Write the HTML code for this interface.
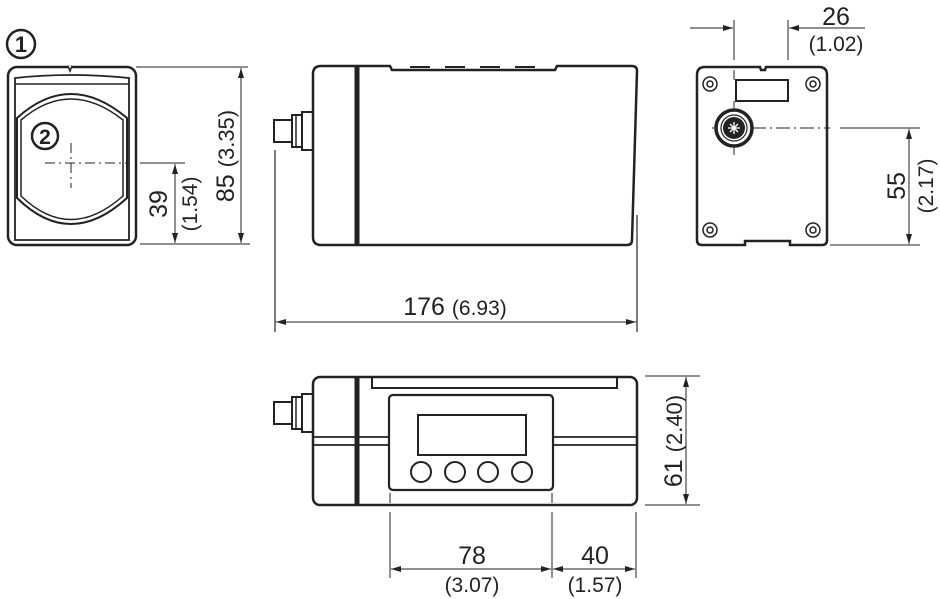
<!DOCTYPE html>
<html><head><meta charset="utf-8"><style>
html,body{margin:0;padding:0;background:#fff;}
svg{display:block;}
text{font-family:"Liberation Sans",sans-serif;fill:#222;}
</style></head><body>
<svg width="940" height="599" viewBox="0 0 940 599" xmlns="http://www.w3.org/2000/svg">
<defs>
<marker id="a" viewBox="0 0 10 6" refX="10" refY="3" markerWidth="11" markerHeight="6" orient="auto-start-reverse" markerUnits="userSpaceOnUse"><path d="M0,0 L10,3 L0,6 z" fill="#222"/></marker>
</defs>
<g fill="none" stroke="#222">
<!-- FRONT VIEW -->
<circle cx="21" cy="44" r="14" stroke-width="2.5"/>
<rect x="8" y="67" width="128" height="178" rx="9" stroke-width="2.5"/>
<path d="M15,78 Q70,72 129,78 L129,240 L15,240 Z" stroke-width="1.8"/>
<path d="M15,84 L129,84" stroke-width="1.5"/>
<path d="M17,118 Q70,70 127,118 L127,198 Q70,250 17,198 Z" stroke-width="2"/>
<path d="M21,120 Q70,78 123,120 L123,196 Q70,243 21,196 Z" stroke-width="1.5"/>
<path d="M68,66 L70,71 L72,66" stroke-width="1.5" fill="#fff"/>
<circle cx="45" cy="136" r="13" stroke-width="2.5"/>
<path d="M71,143 V188" stroke-width="1" stroke-dasharray="10,4,2,4"/>
<path d="M45,163 H130" stroke-width="1" stroke-dasharray="10,4,2,4"/>
<path d="M140,163 H185" stroke-width="1"/>
<path d="M140,244 H250 M136,67 H248" stroke-width="1"/>
<path d="M175,164 V243" stroke-width="1" marker-start="url(#a)" marker-end="url(#a)"/>
<path d="M241,68 V243" stroke-width="1" marker-start="url(#a)" marker-end="url(#a)"/>

<!-- SIDE VIEW -->
<path d="M321,66 L390,66 L392,70 L555,70 L557,66 L632,66 Q637,66 637,71 L632,240 Q632,245 627,245 L321,245 Q313,245 313,237 L313,74 Q313,66 321,66 Z" stroke-width="2.5"/>
<path d="M410,67 H430 M445,67 H465 M480,67 H500 M515,67 H535" stroke-width="2"/>
<path d="M357,66 V245" stroke-width="5"/>
<rect x="274" y="120" width="18" height="22" stroke-width="2"/>
<rect x="292" y="115" width="10" height="32" stroke-width="2"/>
<rect x="302" y="112" width="11" height="38" stroke-width="2"/>
<path d="M296,115 V147" stroke-width="1.5"/>
<path d="M275,150 V332 M637,215 V332" stroke-width="1.2"/>
<path d="M276,322 H636" stroke-width="1" marker-start="url(#a)" marker-end="url(#a)"/>

<!-- BACK VIEW -->
<path d="M705,67 L760,67 L761,70 L765,70 L766,67 L819,67 Q827,67 827,75 L827,240 Q827,245 822,245 L790,245 L790,241 L745,241 L745,245 L702,245 Q697,245 697,240 L697,75 Q697,67 705,67 Z" stroke-width="2.5"/>
<g stroke-width="1.5">
<circle cx="710" cy="84" r="7"/><circle cx="710" cy="84" r="3"/>
<circle cx="813" cy="84" r="7"/><circle cx="813" cy="84" r="3"/>
<circle cx="710" cy="230" r="7"/><circle cx="710" cy="230" r="3"/>
<circle cx="813" cy="230" r="7"/><circle cx="813" cy="230" r="3"/>
</g>
<rect x="736" y="80" width="52" height="21" stroke-width="2"/>
<path d="M734,20 V60 M788,20 V60 M734,70 V80" stroke-width="1"/>
<path d="M734,101 V108" stroke-width="1"/>
<path d="M690,28 H733" stroke-width="1" marker-end="url(#a)"/>
<path d="M865,28 H789" stroke-width="1" marker-end="url(#a)"/>
<circle cx="734" cy="128" r="18" stroke-width="3.5"/>
<circle cx="734" cy="128" r="13" stroke-width="1.2"/>
<circle cx="734" cy="128" r="11" fill="#222" stroke="none"/>
<path d="M728,128 H740 M734,122 V134 M730,124 L738,132 M738,124 L730,132" stroke="#fff" stroke-width="1.3"/>
<path d="M712,128 H716 M752,128 H830 M734,146 V155" stroke-width="1" stroke-dasharray="14,4,2,4"/>
<path d="M840,128 H920 M830,245 H920" stroke-width="1"/>
<path d="M909,129 V244" stroke-width="1" marker-start="url(#a)" marker-end="url(#a)"/>

<!-- BOTTOM VIEW -->
<rect x="313" y="377" width="324" height="128" rx="7" stroke-width="2.5"/>
<path d="M372,378 V388 H617 V378" stroke-width="2"/>
<path d="M357,377 V505" stroke-width="5"/>
<path d="M313,437 H388 M313,445 H388 M553,437 H637 M553,445 H637" stroke-width="1.8"/>
<rect x="389" y="395" width="164" height="95" rx="4" stroke-width="2.2" fill="#fff"/>
<rect x="418" y="415" width="108" height="40" stroke-width="2"/>
<circle cx="421" cy="472" r="10" stroke-width="2"/>
<circle cx="455" cy="472" r="10" stroke-width="2"/>
<circle cx="488" cy="472" r="10" stroke-width="2"/>
<circle cx="522" cy="472" r="10" stroke-width="2"/>
<rect x="274" y="402" width="18" height="22" stroke-width="2"/>
<rect x="292" y="397" width="10" height="32" stroke-width="2"/>
<rect x="302" y="394" width="11" height="38" stroke-width="2"/>
<path d="M296,397 V429" stroke-width="1.5"/>
<path d="M645,376 H700 M645,505 H700" stroke-width="1"/>
<path d="M686,377 V504" stroke-width="1" marker-start="url(#a)" marker-end="url(#a)"/>
<path d="M390,493 V503 M552,493 V503 M390,512 V578 M552,512 V578 M636,512 V578" stroke-width="1"/>
<path d="M391,569 H551" stroke-width="1" marker-start="url(#a)" marker-end="url(#a)"/>
<path d="M553,569 H635" stroke-width="1" marker-start="url(#a)" marker-end="url(#a)"/>
</g>
<!-- texts -->
<text x="21" y="52" font-size="22" font-weight="bold" text-anchor="middle">1</text>
<text x="45" y="144" font-size="21" font-weight="bold" text-anchor="middle">2</text>
<text transform="translate(167,204) rotate(-90)" font-size="25" text-anchor="middle">39</text>
<text transform="translate(197,204) rotate(-90)" font-size="21" text-anchor="middle">(1.54)</text>
<text transform="translate(234,156) rotate(-90)" font-size="25" text-anchor="middle">85 <tspan font-size="22">(3.35)</tspan></text>
<text x="455" y="315" font-size="25" text-anchor="middle">176 <tspan font-size="21">(6.93)</tspan></text>
<text x="836" y="25" font-size="25" text-anchor="middle">26</text>
<text x="836" y="51" font-size="21" text-anchor="middle">(1.02)</text>
<text transform="translate(905,186) rotate(-90)" font-size="25" text-anchor="middle">55</text>
<text transform="translate(933,186) rotate(-90)" font-size="21" text-anchor="middle">(2.17)</text>
<text transform="translate(682,441) rotate(-90)" font-size="25" text-anchor="middle">61 <tspan font-size="22">(2.40)</tspan></text>
<text x="472" y="564" font-size="25" text-anchor="middle">78</text>
<text x="472" y="592" font-size="21" text-anchor="middle">(3.07)</text>
<text x="595" y="564" font-size="25" text-anchor="middle">40</text>
<text x="595" y="592" font-size="21" text-anchor="middle">(1.57)</text>
</svg>
</body></html>
